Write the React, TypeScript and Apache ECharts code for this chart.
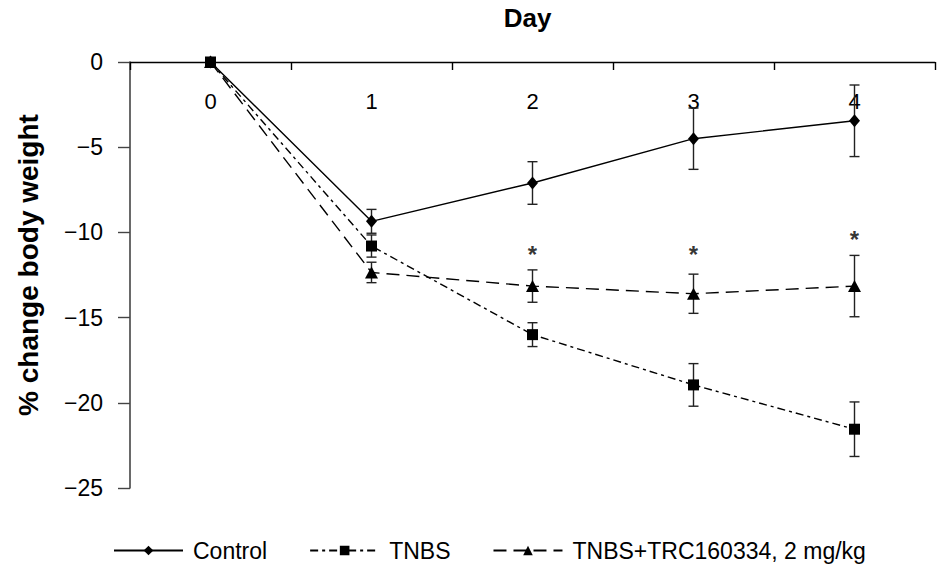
import React, { useEffect, useRef } from "react";
import * as echarts from "echarts";

const days = ["0", "1", "2", "3", "4"];
const controlMean = [0, -9.35, -7.1, -4.5, -3.45];
const controlErr = [0, 0.7, 1.25, 1.8, 2.1];
const tnbsMean = [0, -10.8, -16.0, -18.95, -21.55];
const tnbsErr = [0, 0.65, 0.7, 1.25, 1.6];
const trcMean = [0, -12.35, -13.15, -13.6, -13.15];
const trcErr = [0, 0.6, 0.95, 1.15, 1.8];
const sigDays = [2, 3, 4];
const sigY = [-11.3, -11.3, -10.4];
const seriesNames = ["Control", "TNBS", "TNBS+TRC160334, 2 mg/kg"];

const FONT = "Liberation Sans";

function errData(mean: number[], err: number[]) {
  const out: number[][] = [];
  mean.forEach((m, i) => {
    if (err[i] > 0) out.push([i, m - err[i], m + err[i]]);
  });
  return out;
}

function errSeries(name: string, mean: number[], err: number[]) {
  return {
    name,
    type: "custom",
    z: 3,
    silent: true,
    encode: { x: 0, y: [1, 2] },
    data: errData(mean, err),
    renderItem: (params: any, api: any) => {
      const x = api.value(0);
      const lo = api.coord([x, api.value(1)]);
      const hi = api.coord([x, api.value(2)]);
      const w = 5;
      const style = { stroke: "#222", lineWidth: 1.4 };
      return {
        type: "group",
        children: [
          { type: "line", shape: { x1: lo[0], y1: lo[1], x2: hi[0], y2: hi[1] }, style },
          { type: "line", shape: { x1: lo[0] - w, y1: lo[1], x2: lo[0] + w, y2: lo[1] }, style },
          { type: "line", shape: { x1: hi[0] - w, y1: hi[1], x2: hi[0] + w, y2: hi[1] }, style },
        ],
      };
    },
  };
}

export default function App() {
  const ref = useRef<HTMLDivElement>(null);
  useEffect(() => {
    if (!ref.current) return;
    const chart = echarts.init(ref.current, undefined, { renderer: "svg" });
    chart.setOption({
      animation: false,
      textStyle: { fontFamily: FONT, color: "#000" },
      grid: { left: 130, right: 2, top: 62, bottom: 76 },
      legend: {
        data: seriesNames,
        left: 113,
        top: 539,
        padding: 0,
        itemWidth: 69,
        itemHeight: 12,
        itemGap: 42,
        textStyle: { fontFamily: FONT, fontSize: 23, color: "#000", padding: [0, 0, 0, 5] },
      },
      xAxis: {
        type: "category",
        data: days,
        position: "top",
        boundaryGap: true,
        name: "Day",
        nameLocation: "middle",
        nameGap: 31,
        nameTextStyle: {
          fontFamily: FONT,
          fontSize: 26,
          fontWeight: "bold",
          color: "#000",
          padding: [0, 10, 0, 0],
        },
        axisLine: { show: true, lineStyle: { color: "#000", width: 1.4 } },
        axisTick: { show: true, inside: true, length: 8, lineStyle: { color: "#000", width: 1.4 } },
        axisLabel: { inside: true, margin: 28, fontSize: 22, color: "#000", fontFamily: FONT },
        splitLine: { show: false },
      },
      yAxis: {
        type: "value",
        min: -25,
        max: 0,
        interval: 5,
        name: "% change body weight",
        nameLocation: "middle",
        nameRotate: 90,
        nameGap: 88,
        nameTextStyle: {
          fontFamily: FONT,
          fontSize: 28,
          fontWeight: "bold",
          color: "#000",
          padding: [0, 0, 0, 20],
        },
        axisLine: { show: true, lineStyle: { color: "#444", width: 1.6 } },
        axisTick: { show: true, inside: false, length: 12, lineStyle: { color: "#444", width: 1.4 } },
        axisLabel: {
          margin: 27,
          fontSize: 23,
          color: "#000",
          fontFamily: FONT,
          formatter: (v: number) => (v < 0 ? "\u2212" + Math.abs(v) : String(v)),
        },
        splitLine: { show: false },
      },
      series: [
        errSeries("errControl", controlMean, controlErr),
        errSeries("errTrc", trcMean, trcErr),
        errSeries("errTnbs", tnbsMean, tnbsErr),
        {
          name: seriesNames[0],
          type: "line",
          z: 4,
          data: controlMean,
          symbol: "diamond",
          symbolSize: [11, 13],
          itemStyle: { color: "#000" },
          lineStyle: { color: "#000", width: 1.4, type: "solid" },
        },
        {
          name: seriesNames[2],
          type: "line",
          z: 4,
          data: trcMean,
          symbol: "triangle",
          symbolSize: [13, 12],
          itemStyle: { color: "#000" },
          lineStyle: { color: "#000", width: 1.4, type: [13, 7] },
        },
        {
          name: seriesNames[1],
          type: "line",
          z: 5,
          data: tnbsMean,
          symbol: "rect",
          symbolSize: 11,
          itemStyle: { color: "#000" },
          lineStyle: { color: "#000", width: 1.4, type: [8, 4, 3, 4] },
        },
        {
          name: "sig",
          type: "scatter",
          z: 6,
          symbolSize: 0,
          silent: true,
          data: sigDays.map((d, i) => [d, sigY[i]]),
          label: {
            show: true,
            position: "inside",
            formatter: "*",
            fontSize: 24,
            fontWeight: "bold",
            color: "#000",
            fontFamily: FONT,
          },
        },
      ],
    });
    return () => chart.dispose();
  }, []);
  return (
    <div
      ref={ref}
      style={{ position: "fixed", left: 0, top: 0, width: 937, height: 564, background: "#fff" }}
    />
  );
}
